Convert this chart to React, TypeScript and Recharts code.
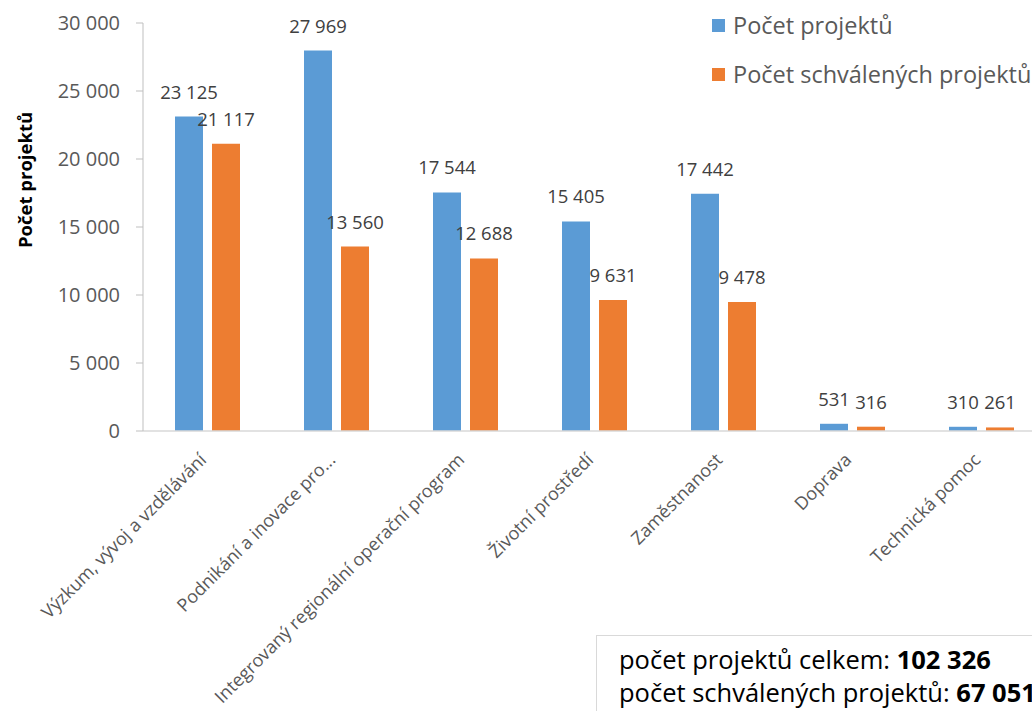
import React from 'react';
import { BarChart, Bar, XAxis, YAxis, LabelList } from 'recharts';

const categories = [
  'Výzkum, vývoj a vzdělávání',
  'Podnikání a inovace pro...',
  'Integrovaný regionální operační program',
  'Životní prostředí',
  'Zaměstnanost',
  'Doprava',
  'Technická pomoc',
];
const projectCounts = [23125, 27969, 17544, 15405, 17442, 531, 310];
const approvedCounts = [21117, 13560, 12688, 9631, 9478, 316, 261];
const yTicks = [0, 5000, 10000, 15000, 20000, 25000, 30000];
const seriesNames = ['Počet projektů', 'Počet schválených projektů'];
const seriesColors = ['#5B9BD5', '#ED7D31'];
const yAxisTitle = 'Počet projektů';
const totalLabels = ['počet projektů celkem: ', 'počet schválených projektů: '];
const totalValues = ['102 326', '67 051'];

const FONT = '"Open Sans", sans-serif';

const data = categories.map((c, i) => ({
  name: c,
  total: projectCounts[i],
  approved: approvedCounts[i],
}));

const fmt = (v: number) => String(v).replace(/\B(?=(\d{3})+(?!\d))/g, ' ');

const DataLabel = (props: any) => {
  const { x, y, width, value } = props;
  return (
    <text x={x + width / 2} y={y - 18} textAnchor="middle" fontSize={18.5} fill="#404040" fontFamily={FONT}>
      {fmt(value)}
    </text>
  );
};

const XTick = (props: any) => {
  const { x, y, payload } = props;
  return (
    <g transform={`translate(${x},${y + 28})`}>
      <text transform="rotate(-45)" textAnchor="end" fontSize={18} fill="#595959" fontFamily={FONT}>
        {payload.value}
      </text>
    </g>
  );
};

const YTitle = () => (
  <text x={24} y={180} transform="rotate(-90, 24, 180)" textAnchor="middle" dominantBaseline="central" fontSize={18.5} fontWeight="bold" fill="#000" fontFamily={FONT}>
    {yAxisTitle}
  </text>
);

export default function App() {
  return (
    <div style={{ position: 'absolute', left: 0, top: 0, width: 1032, height: 711, overflow: 'hidden', background: '#fff', fontFamily: FONT }}>
      <BarChart
        width={1050}
        height={711}
        data={data}
        margin={{ top: 23, right: 4, left: 0, bottom: 0 }}
        barSize={28}
        barGap={9}
      >
        <XAxis
          dataKey="name"
          height={280}
          interval={0}
          tickLine={false}
          tickSize={0}
          axisLine={{ stroke: '#d9d9d9', strokeWidth: 1.5 }}
          tick={<XTick />}
        />
        <YAxis
          width={143}
          domain={[0, 30000]}
          ticks={yTicks}
          tickFormatter={fmt}
          axisLine={{ stroke: '#bfbfbf' }}
          tickLine={{ stroke: '#bfbfbf' }}
          tickSize={7}
          tickMargin={16}
          tick={{ fill: '#595959', fontSize: 20, fontFamily: FONT }}
          label={<YTitle />}
        />
        <Bar dataKey="total" name={seriesNames[0]} fill={seriesColors[0]} isAnimationActive={false}>
          <LabelList dataKey="total" content={<DataLabel />} />
        </Bar>
        <Bar dataKey="approved" name={seriesNames[1]} fill={seriesColors[1]} isAnimationActive={false}>
          <LabelList dataKey="approved" content={<DataLabel />} />
        </Bar>
      </BarChart>
      {seriesNames.map((n, i) => (
        <React.Fragment key={n}>
          <div style={{ position: 'absolute', left: 712, top: 19 + i * 49, width: 13, height: 13, background: seriesColors[i] }} />
          <div style={{ position: 'absolute', left: 733, top: 9 + i * 49, fontSize: 23.5, lineHeight: '32px', color: '#595959', whiteSpace: 'nowrap' }}>
            {n}
          </div>
        </React.Fragment>
      ))}
      <div
        style={{
          position: 'absolute',
          left: 596,
          top: 635,
          width: 480,
          height: 100,
          border: '1.5px solid #d9d9d9',
          background: '#fff',
          color: '#000',
          fontSize: 25.5,
        }}
      >
        {totalLabels.map((t, i) => (
          <div key={t} style={{ position: 'absolute', left: 22, top: 8 + i * 33, whiteSpace: 'nowrap', lineHeight: '30px' }}>
            {t}
            <b>{totalValues[i]}</b>
          </div>
        ))}
      </div>
    </div>
  );
}
